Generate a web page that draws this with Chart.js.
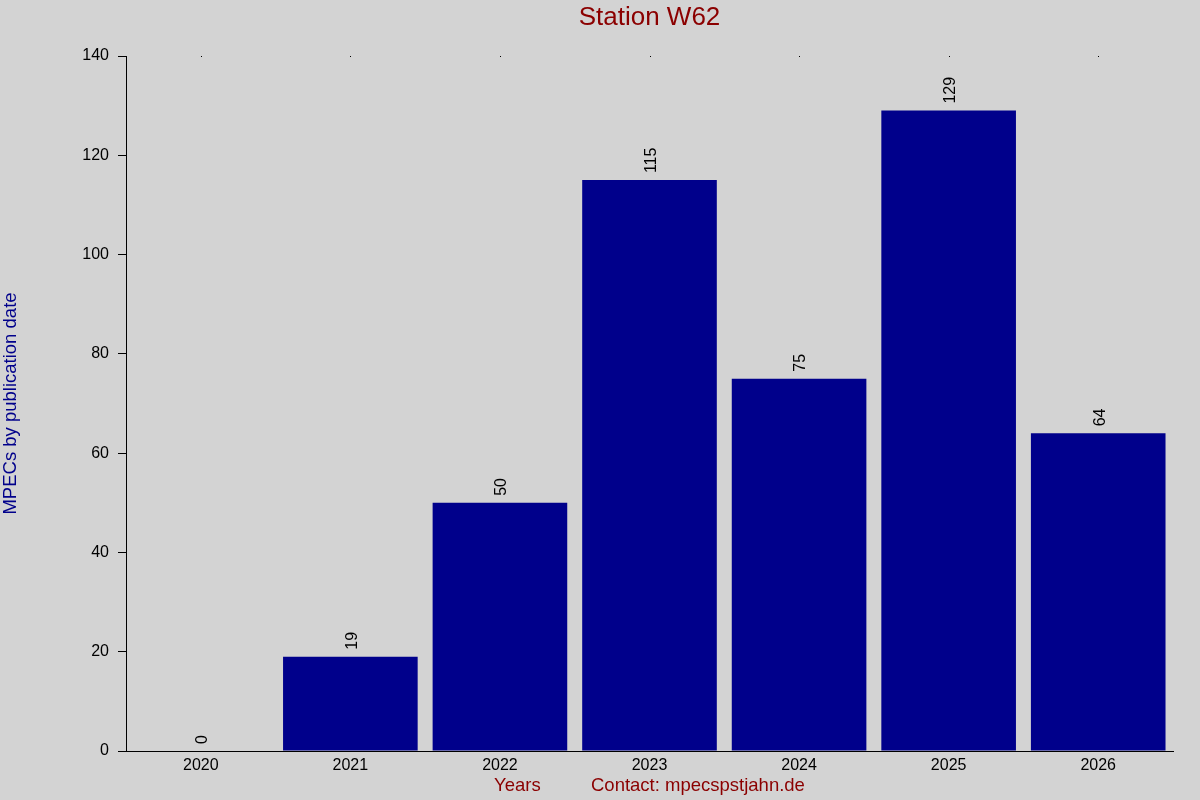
<!DOCTYPE html>
<html>
<head>
<meta charset="utf-8">
<script src="https://cdn.jsdelivr.net/npm/chart.js@4"></script>
<style>
  html, body { margin: 0; padding: 0; background: #d3d3d3; }
  #wrap { width: 1200px; height: 800px; }
  canvas { background: #d3d3d3; }
</style>
</head>
<body>
<div id="wrap"><canvas id="chart"></canvas></div>
<script>
// chart data
const years = ['2020', '2021', '2022', '2023', '2024', '2025', '2026'];
const mpecs = [0, 19, 50, 115, 75, 129, 64];
const yTicks = [0, 20, 40, 60, 80, 100, 120, 140];

const FONT = '"Liberation Sans", Arial, sans-serif';
const darkRed = '#8b0000';
const darkBlue = '#00008b';

// draws the title, axis texts, value labels and the small top dots
const decorations = {
    id: 'decorations',
    afterDatasetsDraw(chart) {
        const ctx = chart.ctx;
        const area = chart.chartArea;
        const xScale = chart.scales.x;
        const meta = chart.getDatasetMeta(0);
        ctx.save();

        // value labels, rotated above each bar
        ctx.fillStyle = '#000';
        ctx.font = '16px ' + FONT;
        ctx.textAlign = 'left';
        ctx.textBaseline = 'middle';
        meta.data.forEach((bar, i) => {
            ctx.save();
            ctx.translate(bar.x + 2, bar.y - 7);
            ctx.rotate(-Math.PI / 2);
            ctx.fillText(String(mpecs[i]), 0, 0);
            ctx.restore();
        });

        // tiny tick dots along the top edge
        years.forEach((y, i) => {
            const px = Math.round(xScale.getPixelForValue(i));
            ctx.fillRect(px, area.top, 1, 1);
        });

        // title
        ctx.fillStyle = darkRed;
        ctx.font = '26px ' + FONT;
        ctx.textAlign = 'center';
        ctx.fillText('Station W62', (area.left + area.right) / 2, 18);

        // bottom texts
        ctx.font = '18.5px ' + FONT;
        ctx.textAlign = 'left';
        ctx.fillText('Years', 494, 786);
        ctx.fillText('Contact: mpecspstjahn.de', 591, 786);

        // y axis title
        ctx.fillStyle = darkBlue;
        ctx.translate(11, (area.top + area.bottom) / 2);
        ctx.rotate(-Math.PI / 2);
        ctx.textAlign = 'center';
        ctx.fillText('MPECs by publication date', 0, 0);

        ctx.restore();
    }
};

new Chart(document.getElementById('chart'), {
    type: 'bar',
    data: {
        labels: years,
        datasets: [{
            label: 'MPECs',
            data: mpecs,
            backgroundColor: darkBlue,
            borderWidth: 0,
            barPercentage: 0.9,
            categoryPercentage: 1.0,
        }],
    },
    options: {
        responsive: true,
        maintainAspectRatio: false,
        animation: false,
        layout: { padding: { top: 56, right: 27, left: 0, bottom: 0 } },
        plugins: {
            legend: { display: false },
            title: { display: false },
            tooltip: { enabled: false },
        },
        scales: {
            x: {
                grid: { display: false, drawTicks: false },
                border: { display: true, color: '#000', width: 1 },
                ticks: { color: '#000', font: { family: FONT, size: 16 }, padding: 5, maxRotation: 0 },
                afterFit(scale) { scale.height = 49; },
            },
            y: {
                min: 0,
                max: 140,
                afterBuildTicks(scale) { scale.ticks = yTicks.map(v => ({ value: v })); },
                grid: { drawOnChartArea: false, drawTicks: true, tickLength: 8, color: '#000' },
                border: { display: true, color: '#000', width: 1 },
                ticks: { color: '#000', font: { family: FONT, size: 16 }, padding: 9 },
                afterFit(scale) { scale.width = 126; },
            },
        },
    },
    plugins: [decorations],
});
</script>
</body>
</html>
